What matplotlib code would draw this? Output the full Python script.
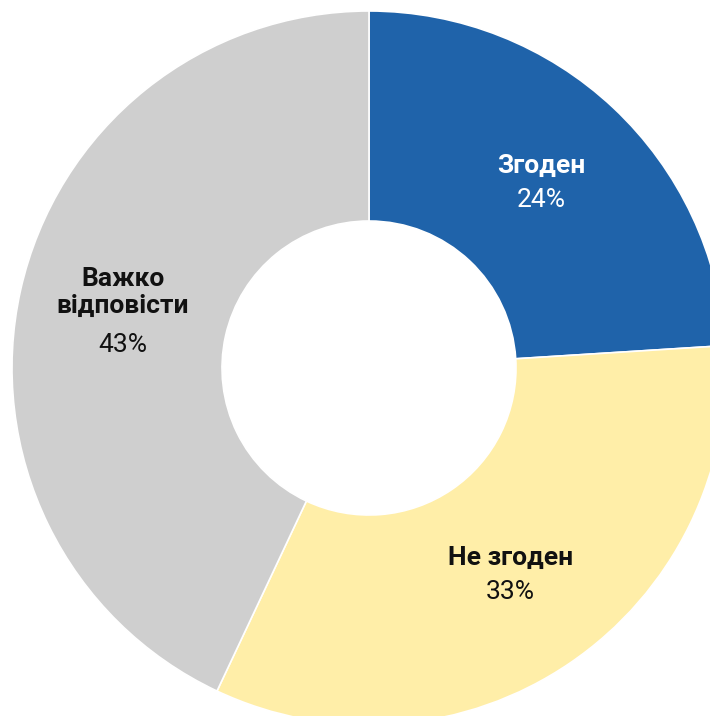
import numpy as np
import matplotlib
matplotlib.use("Agg")
import matplotlib.pyplot as plt

labels = ["Згоден", "Не згоден", "Важко\nвідповісти"]
shares = [24, 33, 43]
colors = ["#1F63AA", "#FFEEA8", "#CFCFCF"]
text_colors = ["white", "#111111", "#111111"]

plt.rcParams["font.family"] = ["Roboto", "DejaVu Sans"]

W, H = 710, 716
fig = plt.figure(figsize=(W / 100, H / 100), dpi=100)
ax = fig.add_axes([0, 0, 1, 1])

cx, cy, R, r_in = 369, 348, 357, 147
wedges, _ = ax.pie(shares, colors=colors, startangle=90, counterclock=False,
                   center=(cx, cy), radius=R,
                   wedgeprops=dict(width=R - r_in, edgecolor="white", linewidth=1.2))
ax.set_xlim(0, W)
ax.set_ylim(0, H)
ax.set_aspect("equal")
ax.axis("off")

line_h = 32
r_mid = (R + r_in) / 2
for w, lab, pct, tc in zip(wedges, labels, shares, text_colors):
    ang = np.deg2rad((w.theta1 + w.theta2) / 2)
    x, y = cx + r_mid * np.cos(ang), cy + r_mid * np.sin(ang)
    n = lab.count("\n") + 2
    ax.annotate(lab, (x, y), xytext=(0, n * line_h / 2 - 2), textcoords="offset pixels",
                ha="center", va="top", fontsize=19, fontweight="bold", color=tc,
                linespacing=1.15)
    ax.annotate(f"{pct}%", (x, y), xytext=(0, -n * line_h / 2 + 4), textcoords="offset pixels",
                ha="center", va="bottom", fontsize=19, color=tc)

fig.savefig("out.png", dpi=100)
